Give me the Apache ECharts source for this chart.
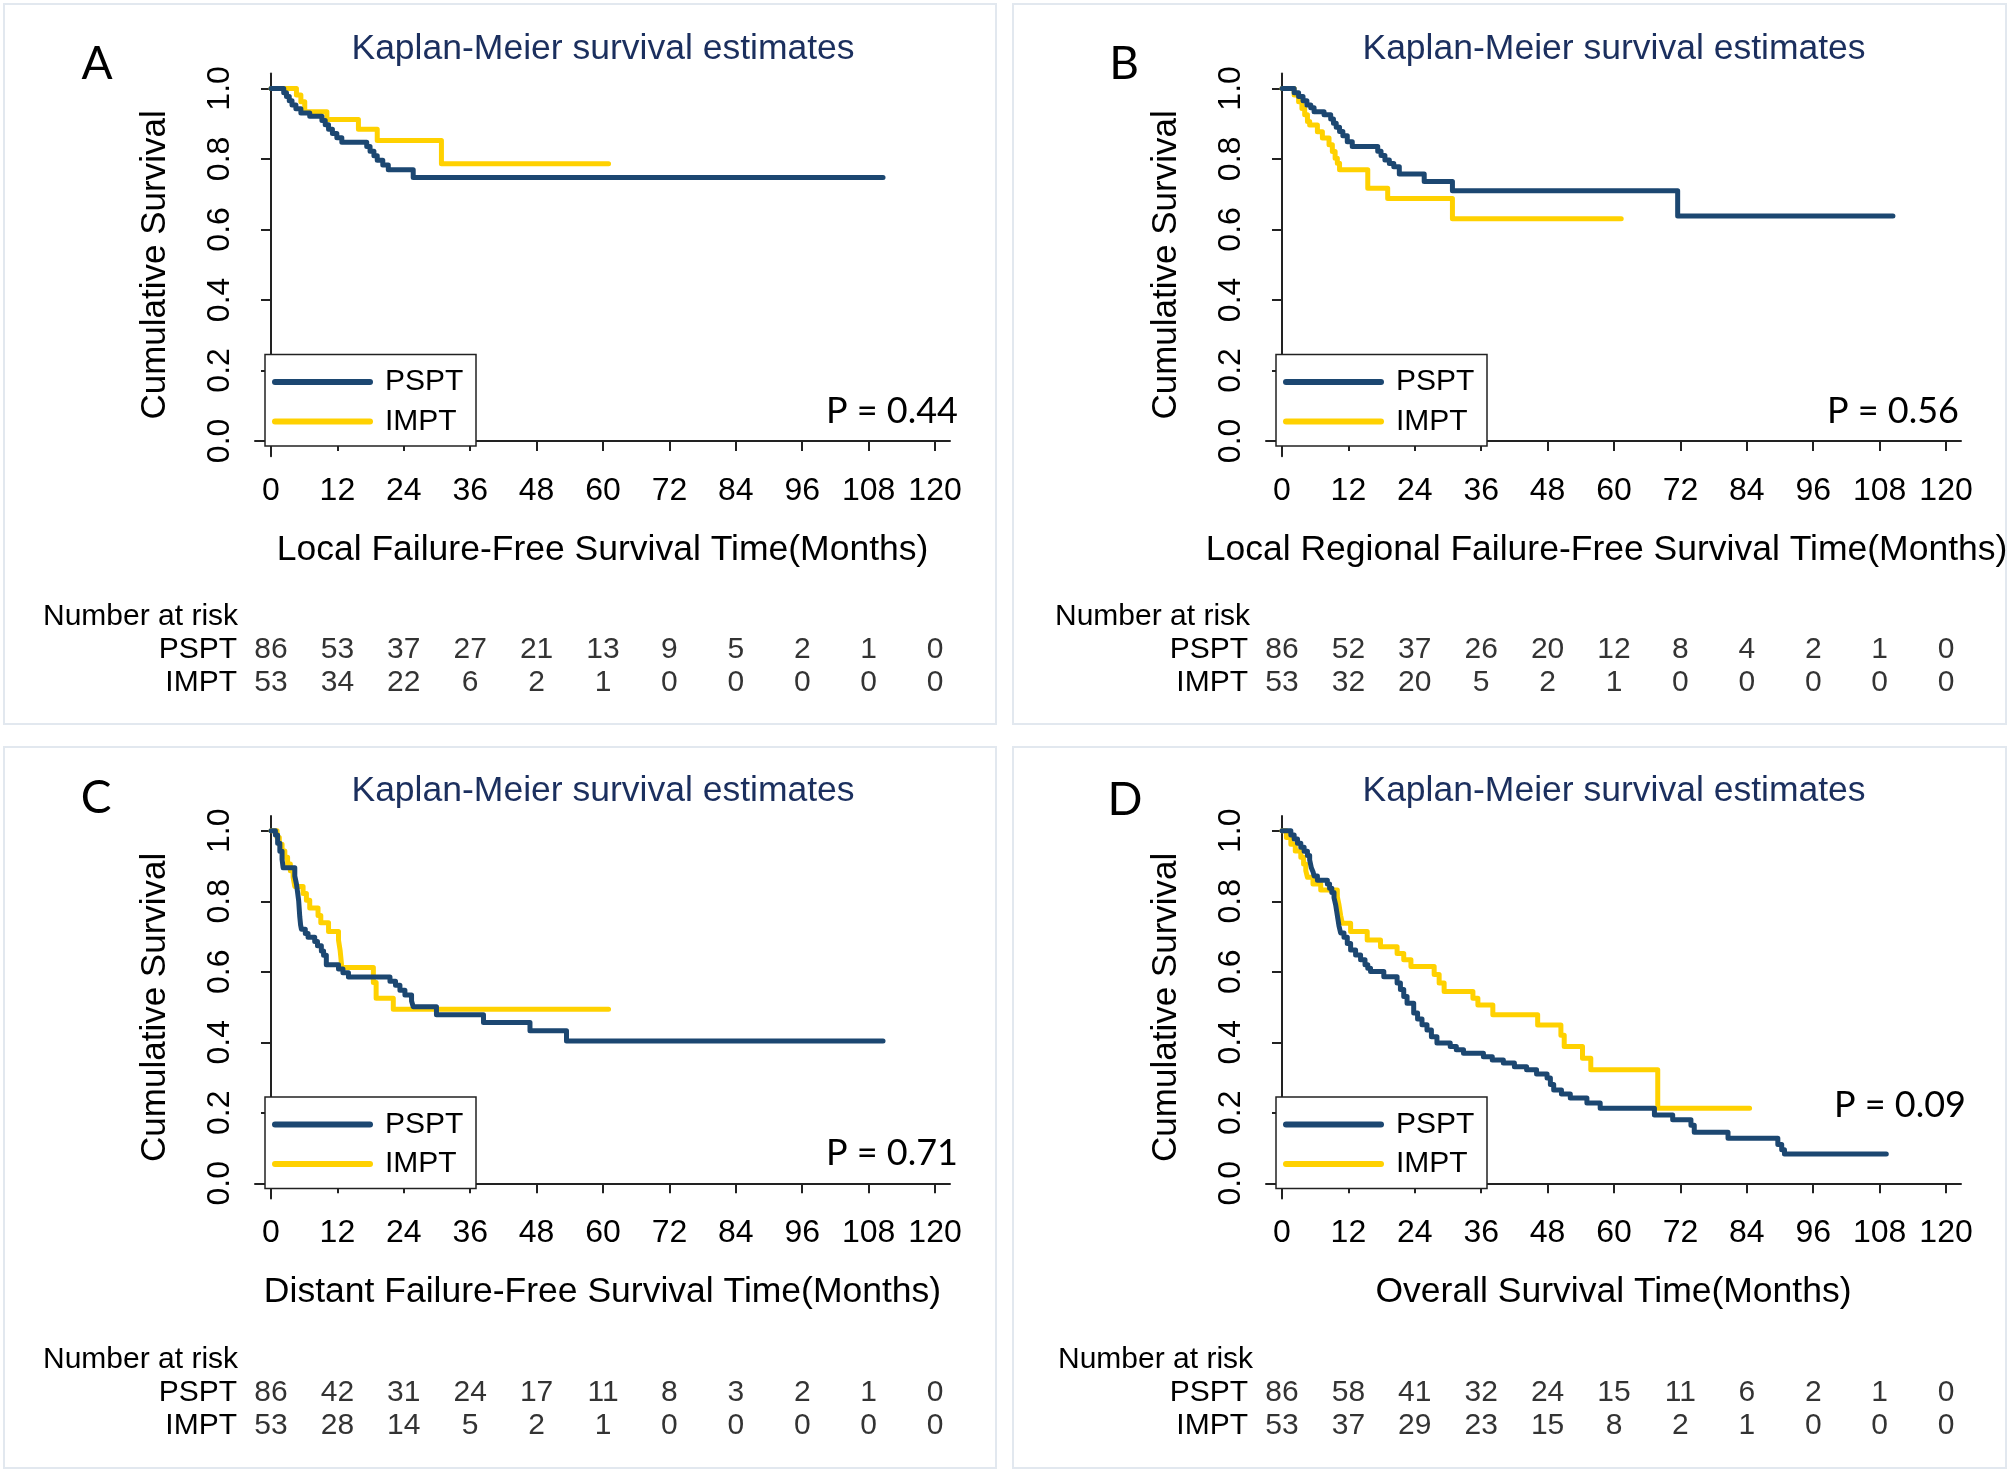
<!DOCTYPE html>
<html>
<head>
<meta charset="utf-8">
<script src="https://cdn.jsdelivr.net/npm/echarts@6/dist/echarts.min.js"></script>
<style>html,body{margin:0;padding:0;background:#fff}#c{width:2010px;height:1471px}</style>
</head>
<body>
<div id="c"></div>
<script>
// ---------- data ----------
const groups = ['PSPT', 'IMPT'];
const xTicks = [0, 12, 24, 36, 48, 60, 72, 84, 96, 108, 120];
const yTicks = [0, 0.2, 0.4, 0.6, 0.8, 1.0];
const titleText = 'Kaplan-Meier survival estimates';
const yTitle = 'Cumulative Survival';
const riskTitle = 'Number at risk';
const panelLetters = ['A', 'B', 'C', 'D'];
const xTitles = [
  'Local Failure-Free Survival Time(Months)',
  'Local Regional Failure-Free Survival Time(Months)',
  'Distant Failure-Free Survival Time(Months)',
  'Overall Survival Time(Months)'
];
const pValues = ['P = 0.44', 'P = 0.56', 'P = 0.71', 'P = 0.09'];

// number at risk (at xTicks)
const riskA_PSPT = [86, 53, 37, 27, 21, 13, 9, 5, 2, 1, 0];
const riskA_IMPT = [53, 34, 22, 6, 2, 1, 0, 0, 0, 0, 0];
const riskB_PSPT = [86, 52, 37, 26, 20, 12, 8, 4, 2, 1, 0];
const riskB_IMPT = [53, 32, 20, 5, 2, 1, 0, 0, 0, 0, 0];
const riskC_PSPT = [86, 42, 31, 24, 17, 11, 8, 3, 2, 1, 0];
const riskC_IMPT = [53, 28, 14, 5, 2, 1, 0, 0, 0, 0, 0];
const riskD_PSPT = [86, 58, 41, 32, 24, 15, 11, 6, 2, 1, 0];
const riskD_IMPT = [53, 37, 29, 23, 15, 8, 2, 1, 0, 0, 0];

// Kaplan-Meier step points [month, survival]
const kmA_PSPT = [[0,1],[2.3,.988],[2.8,.977],[3.3,.965],[3.8,.953],[4.5,.942],[5.4,.93],[7,.921],[9.2,.909],[9.8,.897],[10.4,.884],[11.1,.872],[11.9,.86],[12.8,.847],[17.3,.835],[17.9,.822],[18.6,.809],[19.2,.796],[20.2,.783],[21.2,.769],[25.7,.747],[110.6,.747]];
const kmA_IMPT = [[0,1],[4.6,.981],[5.4,.962],[6.1,.934],[10.1,.912],[15.8,.884],[19.2,.852],[30.8,.786],[61,.786]];

const kmB_PSPT = [[0,1],[2.2,.988],[3,.977],[3.8,.965],[4.5,.953],[5.2,.945],[5.8,.934],[7.6,.925],[8.8,.913],[9.3,.901],[9.8,.89],[10.4,.878],[11,.866],[11.8,.849],[12.7,.835],[17.3,.822],[17.9,.81],[18.6,.797],[19.4,.787],[20.2,.778],[21.2,.757],[25.7,.736],[30.8,.71],[71.5,.638],[110.4,.638]];
const kmB_IMPT = [[0,1],[2.2,.981],[3,.962],[3.6,.943],[4.1,.925],[4.6,.906],[5,.896],[6.4,.877],[7.3,.859],[8.5,.84],[9.1,.821],[9.6,.802],[10,.788],[10.4,.769],[15.5,.717],[19.1,.688],[30.8,.63],[61.3,.63]];

const kmC_PSPT = [[0,1],[0.8,.988],[1.2,.965],[1.6,.942],[2,.919],[2.2,.895],[4.3,.872],[4.6,.849],[4.8,.826],[5,.802],[5.1,.779],[5.2,.756],[5.35,.733],[5.5,.721],[6.2,.709],[6.7,.698],[7.9,.686],[8.4,.674],[9.1,.659],[9.5,.647],[10,.62],[12.2,.608],[13,.597],[14,.585],[21.5,.573],[22.5,.562],[23.3,.548],[24.2,.534],[25.4,.517],[25.7,.501],[29.9,.478],[38.4,.456],[46.8,.433],[53.4,.404],[110.6,.404]];
const kmC_IMPT = [[0,1],[1.1,.981],[1.5,.962],[2,.943],[2.5,.925],[3,.906],[3.5,.887],[4,.868],[4.3,.842],[5.8,.822],[6.4,.803],[7,.781],[8.5,.76],[9,.739],[10.4,.714],[12.2,.69],[12.5,.66],[12.8,.612],[18.5,.57],[19,.525],[22.1,.494],[61,.494]];

const kmD_PSPT = [[0,1],[1.6,.988],[2.2,.977],[2.8,.965],[3.4,.953],[4,.942],[4.6,.93],[5,.917],[5.3,.895],[5.6,.884],[5.8,.872],[6.4,.86],[8.2,.849],[8.6,.837],[9,.825],[9.4,.81],[9.7,.79],[9.9,.77],[10.1,.75],[10.3,.73],[10.6,.71],[11.2,.698],[11.8,.68],[12.4,.662],[13.3,.648],[14.2,.634],[15,.62],[15.5,.61],[16,.601],[18.4,.586],[20.8,.568],[21.4,.55],[22,.53],[22.6,.511],[23.8,.483],[24.5,.466],[25.3,.45],[26.2,.435],[27,.416],[28,.398],[30.4,.388],[31.5,.379],[32.8,.369],[36.4,.359],[38,.35],[40,.341],[42,.331],[44.2,.322],[46,.31],[47.9,.299],[48.5,.28],[49.1,.265],[50.5,.253],[52.1,.242],[55.1,.228],[57.5,.213],[67.3,.194],[70.6,.18],[73.9,.165],[74.5,.145],[80.6,.128],[89.6,.11],[90.3,.095],[90.8,.083],[109.2,.083]];
const kmD_IMPT = [[0,1],[0.8,.981],[1.6,.962],[2.4,.943],[3.4,.925],[3.9,.906],[4.3,.887],[4.6,.868],[5.6,.849],[7,.832],[10,.813],[10.3,.79],[10.6,.76],[10.9,.738],[12.4,.714],[15.4,.69],[17.8,.671],[20.8,.652],[22,.634],[23.3,.615],[27.5,.592],[28.4,.568],[29.3,.544],[34.5,.525],[35.4,.506],[38.1,.478],[46.2,.449],[50.4,.42],[51,.388],[54.3,.355],[55.8,.322],[67.9,.213],[84.5,.213]];

// ---------- styles / layout ----------
const COLORS = ['#1c4771', '#ffd100'];
const TITLE_COLOR = '#1b2f5e';
const FONT = '"Liberation Sans", Arial, sans-serif';
const FONT2 = 'Lato, "Open Sans", sans-serif';
const XMIN = -2.89, XMAX = 122.7, YMIN = -0.0434, YMAX = 1.042;

const panels = [
  {px: 0,    py: 0,     km: [kmA_PSPT, kmA_IMPT], risk: [riskA_PSPT, riskA_IMPT], border: [4, 4, 992, 720],   letterPos: [97, 64],    pPos: [958, 411],   riskLabelX: 43,   xNameShift: 0},
  {px: 1011, py: 0,     km: [kmB_PSPT, kmB_IMPT], risk: [riskB_PSPT, riskB_IMPT], border: [1013, 4, 993, 720], letterPos: [1124, 64],  pPos: [1959, 411],  riskLabelX: 1055, xNameShift: -7},
  {px: 0,    py: 742.4, km: [kmC_PSPT, kmC_IMPT], risk: [riskC_PSPT, riskC_IMPT], border: [4, 747, 992, 721], letterPos: [96, 798],   pPos: [958, 1153],  riskLabelX: 43,   xNameShift: 0},
  {px: 1011, py: 742.4, km: [kmD_PSPT, kmD_IMPT], risk: [riskD_PSPT, riskD_IMPT], border: [1013, 747, 993, 721], letterPos: [1125, 800], pPos: [1966, 1105], riskLabelX: 1058, xNameShift: 0}
];

const grid = [], xAxis = [], yAxis = [], series = [], graphic = [];

panels.forEach((p, i) => {
  const L = p.px + 255, T = p.py + 73.6;
  grid.push({left: L, top: T, width: 695, height: 382.6});
  grid.push({left: L, top: p.py + 633.5, width: 695, height: 66});

  xAxis.push({
    gridIndex: 2 * i, type: 'value', min: XMIN, max: XMAX,
    axisLine: {show: true, lineStyle: {color: '#222', width: 2}},
    axisTick: {show: true, customValues: xTicks, length: 10, lineStyle: {color: '#222', width: 2}},
    axisLabel: {customValues: xTicks, fontSize: 32, margin: 19, color: '#000', fontFamily: FONT},
    splitLine: {show: false},
    name: xTitles[i], nameLocation: 'middle', nameGap: 76,
    nameTextStyle: {fontSize: 35.5, color: '#000', fontFamily: FONT, padding: p.xNameShift ? [0, -2 * p.xNameShift, 0, 0] : 0}
  });
  yAxis.push({
    gridIndex: 2 * i, type: 'value', min: YMIN, max: YMAX,
    axisLine: {show: true, lineStyle: {color: '#222', width: 2}},
    axisTick: {show: true, customValues: yTicks, length: 10, lineStyle: {color: '#222', width: 2}},
    axisLabel: {customValues: yTicks, rotate: 90, fontSize: 32, margin: 19, color: '#000', fontFamily: FONT,
                formatter: v => Number(v).toFixed(1)},
    splitLine: {show: false},
    name: yTitle, nameLocation: 'middle', nameGap: 82,
    nameTextStyle: {fontSize: 35, color: '#000', fontFamily: FONT}
  });
  xAxis.push({gridIndex: 2 * i + 1, type: 'value', min: XMIN, max: XMAX, show: false});
  yAxis.push({
    gridIndex: 2 * i + 1, type: 'category', data: groups, inverse: true,
    axisLine: {show: false}, axisTick: {show: false}, splitLine: {show: false},
    axisLabel: {interval: 0, hideOverlap: false, fontSize: 30, margin: 18, color: '#000', fontFamily: FONT}
  });

  groups.forEach((g, k) => {
    series.push({
      type: 'line', name: g, xAxisIndex: 2 * i, yAxisIndex: 2 * i,
      data: p.km[k], step: 'end', showSymbol: false, symbol: 'none', silent: true,
      lineStyle: {color: COLORS[k], width: 5, cap: 'round', join: 'round'},
      z: k === 0 ? 3 : 2
    });
  });
  const rd = [];
  groups.forEach((g, k) => xTicks.forEach((t, j) => rd.push([t, g, p.risk[k][j]])));
  series.push({
    type: 'scatter', xAxisIndex: 2 * i + 1, yAxisIndex: 2 * i + 1, data: rd,
    symbolSize: 1, itemStyle: {color: 'rgba(0,0,0,0)'}, silent: true,
    label: {show: true, position: 'inside', formatter: q => String(q.value[2]),
            fontSize: 30, color: '#000', fontFamily: FONT}
  });

  // panel frame
  graphic.push({type: 'rect', shape: {x: p.border[0], y: p.border[1], width: p.border[2], height: p.border[3]},
    style: {fill: 'none', stroke: '#e2e8ef', lineWidth: 2}, z: 0, silent: true});
  // title
  graphic.push({type: 'text', x: p.px + 603, y: p.py + 49,
    style: {text: titleText, fill: TITLE_COLOR, font: '35.5px ' + FONT, align: 'center', verticalAlign: 'middle'}, z: 10});
  // letter
  graphic.push({type: 'text', x: p.letterPos[0], y: p.letterPos[1],
    style: {text: panelLetters[i], fill: '#000', font: '46px ' + FONT2, align: 'center', verticalAlign: 'middle'}, z: 10});
  // p-value
  graphic.push({type: 'text', x: p.pPos[0], y: p.pPos[1],
    style: {text: pValues[i], fill: '#000', font: '36px ' + FONT2, align: 'right', verticalAlign: 'middle'}, z: 10});
  // number at risk
  graphic.push({type: 'text', x: p.riskLabelX, y: p.py + 617,
    style: {text: riskTitle, fill: '#000', font: '30px ' + FONT, align: 'left', verticalAlign: 'middle'}, z: 10});
  // legend
  graphic.push({type: 'rect', shape: {x: L + 10, y: T + 281, width: 211, height: 91.5},
    style: {fill: '#fff', stroke: '#222', lineWidth: 1.5}, z: 20});
  groups.forEach((g, k) => {
    const ly = T + 308.5 + k * 39.5;
    graphic.push({type: 'line', shape: {x1: L + 20, y1: ly, x2: L + 115, y2: ly},
      style: {stroke: COLORS[k], lineWidth: 6, lineCap: 'round'}, z: 21});
    graphic.push({type: 'text', x: L + 130, y: ly,
      style: {text: g, fill: '#000', font: '30px ' + FONT, align: 'left', verticalAlign: 'middle'}, z: 21});
  });
});

const chart = echarts.init(document.getElementById('c'), null, {renderer: 'canvas'});
chart.setOption({
  animation: false,
  backgroundColor: '#fff',
  textStyle: {fontFamily: FONT},
  grid, xAxis, yAxis, series, graphic
});
</script>
</body>
</html>
